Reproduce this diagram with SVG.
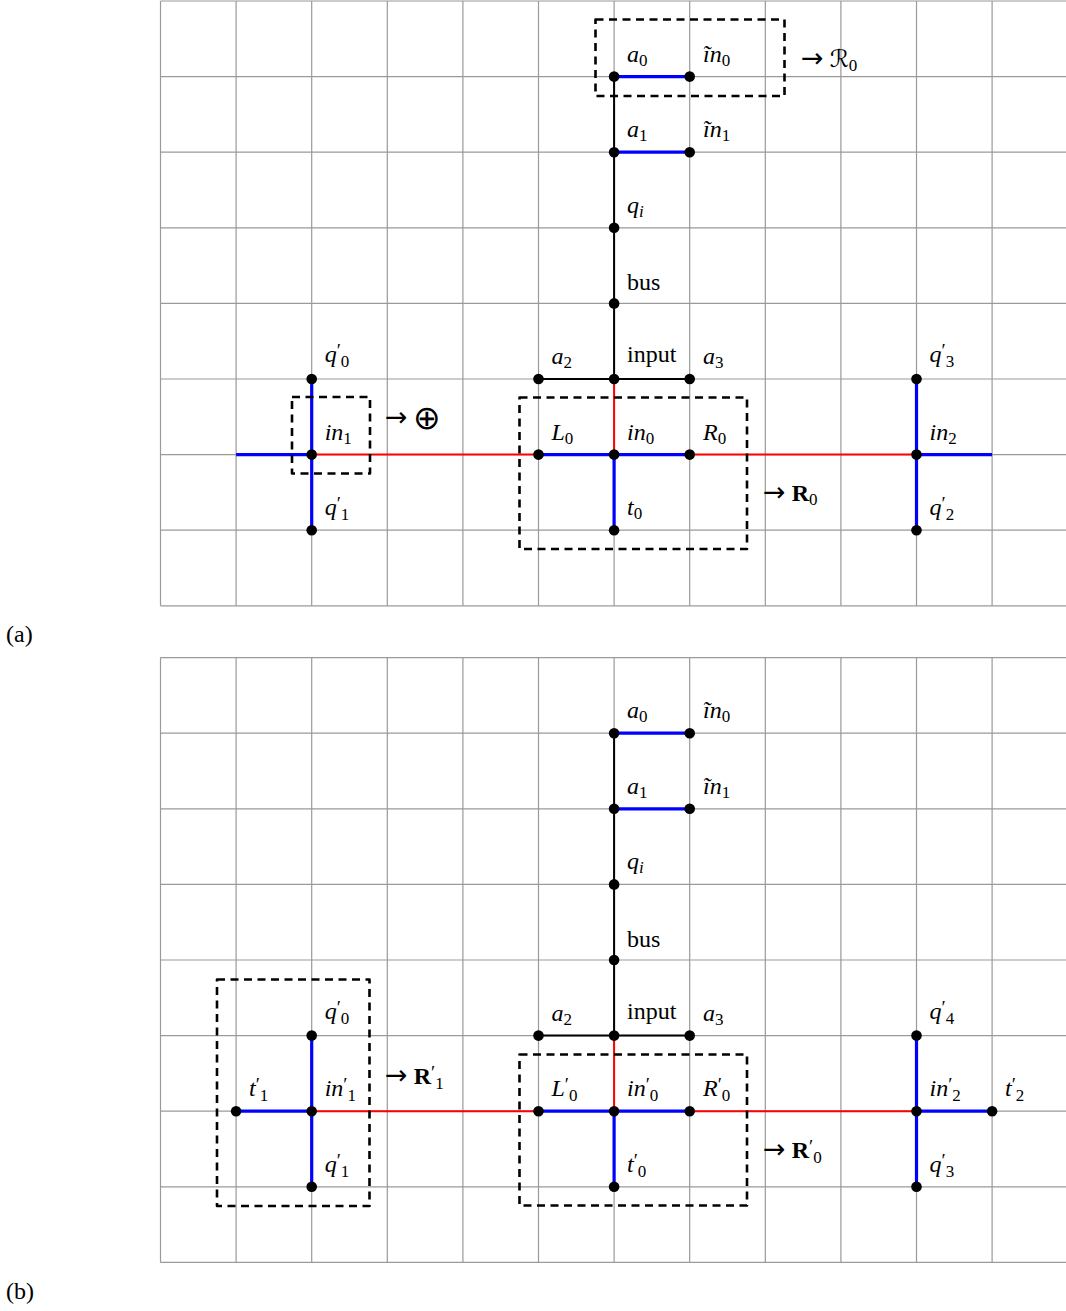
<svg xmlns="http://www.w3.org/2000/svg" width="1066" height="1311" viewBox="0 0 1066 1311">
<style>
.grid{stroke:#9a9a9a;stroke-width:1.2;fill:none}
.blk{stroke:#000;stroke-width:2;fill:none}
.blu{stroke:#0000ff;stroke-width:3.2;fill:none}
.red{stroke:#ff0000;stroke-width:2;fill:none}
.box{stroke:#000;stroke-width:2.6;fill:none;stroke-dasharray:8 5.5;stroke-linejoin:round}
.dot{fill:#000}
text{font-family:"Liberation Serif","DejaVu Serif",serif;font-size:24px;fill:#000}
.it{font-style:italic}
.s{font-size:17px;font-style:normal}
.si{font-size:17px;font-style:italic}
.p{font-size:19px;font-style:normal}
.bf{font-weight:bold;font-style:normal}
.ar{font-family:"DejaVu Sans",sans-serif;font-size:27px;font-style:normal}
</style>
<rect width="1066" height="1311" fill="#fff"/>
<g id="grid-a" class="grid">
<path d="M160.5 1H1066M160.5 76.6H1066M160.5 152.2H1066M160.5 227.8H1066M160.5 303.4H1066M160.5 379H1066M160.5 454.6H1066M160.5 530.2H1066M160.5 605.8H1066"/>
<path d="M160.5 1V605.8M236.1 1V605.8M311.7 1V605.8M387.3 1V605.8M462.9 1V605.8M538.5 1V605.8M614.1 1V605.8M689.7 1V605.8M765.3 1V605.8M840.9 1V605.8M916.5 1V605.8M992.1 1V605.8"/>
</g>
<g id="grid-b" class="grid">
<path d="M160.5 657.6H1066M160.5 733.2H1066M160.5 808.8H1066M160.5 884.4H1066M160.5 960H1066M160.5 1035.6H1066M160.5 1111.2H1066M160.5 1186.8H1066M160.5 1262.4H1066"/>
<path d="M160.5 657.6V1262.4M236.1 657.6V1262.4M311.7 657.6V1262.4M387.3 657.6V1262.4M462.9 657.6V1262.4M538.5 657.6V1262.4M614.1 657.6V1262.4M689.7 657.6V1262.4M765.3 657.6V1262.4M840.9 657.6V1262.4M916.5 657.6V1262.4M992.1 657.6V1262.4"/>
</g>
<g id="connectors">
<path class="blk" d="M614.1 76.6V379M538.5 379H689.7"/>
<path class="red" d="M614.1 379V454.6M311.7 454.6H538.5M689.7 454.6H916.5"/>
<path class="blu" d="M614.1 76.6H689.7M614.1 152.2H689.7M538.5 454.6H689.7M614.1 454.6V530.2M236.1 454.6H311.7M311.7 379V530.2M916.5 379V530.2M916.5 454.6H992.1"/>
<path class="blk" d="M614.1 733.2V1035.6M538.5 1035.6H689.7"/>
<path class="red" d="M614.1 1035.6V1111.2M311.7 1111.2H538.5M689.7 1111.2H916.5"/>
<path class="blu" d="M614.1 733.2H689.7M614.1 808.8H689.7M538.5 1111.2H689.7M614.1 1111.2V1186.8M236.1 1111.2H311.7M311.7 1035.6V1186.8M916.5 1035.6V1186.8M916.5 1111.2H992.1"/>
</g>
<g id="boxes">
<rect class="box" x="595.5" y="19.5" width="189" height="76.5"/>
<rect class="box" x="292" y="397" width="78" height="76.5"/>
<rect class="box" x="519.5" y="397.5" width="227.5" height="151.5"/>
<rect class="box" x="217" y="979.5" width="152.5" height="226.5"/>
<rect class="box" x="519.5" y="1054.5" width="227.5" height="151"/>
</g>
<g id="nodes-a">
<g id="a-a0"><circle class="dot" cx="614.1" cy="76.6" r="5.3"/><text class="it" x="627" y="61.6">a<tspan class="s" dy="4">0</tspan></text></g>
<g id="a-tin0"><circle class="dot" cx="689.7" cy="76.6" r="5.3"/><text class="it" x="703" y="61.6">ĩn<tspan class="s" dy="4">0</tspan></text></g>
<g id="a-a1"><circle class="dot" cx="614.1" cy="152.2" r="5.3"/><text class="it" x="627" y="137.2">a<tspan class="s" dy="4">1</tspan></text></g>
<g id="a-tin1"><circle class="dot" cx="689.7" cy="152.2" r="5.3"/><text class="it" x="703" y="137.2">ĩn<tspan class="s" dy="4">1</tspan></text></g>
<g id="a-qi"><circle class="dot" cx="614.1" cy="227.8" r="5.3"/><text class="it" x="627" y="212.8">q<tspan class="si" dy="4">i</tspan></text></g>
<g id="a-bus"><circle class="dot" cx="614.1" cy="303.4" r="5.3"/><text x="627" y="290">bus</text></g>
<g id="a-input"><circle class="dot" cx="614.1" cy="379" r="5.3"/><text x="627" y="362">input</text></g>
<g id="a-a2"><circle class="dot" cx="538.5" cy="379" r="5.3"/><text class="it" x="551.5" y="364">a<tspan class="s" dy="4">2</tspan></text></g>
<g id="a-a3"><circle class="dot" cx="689.7" cy="379" r="5.3"/><text class="it" x="703" y="364">a<tspan class="s" dy="4">3</tspan></text></g>
<g id="a-L0"><circle class="dot" cx="538.5" cy="454.6" r="5.3"/><text class="it" x="551.5" y="439.6">L<tspan class="s" dy="4">0</tspan></text></g>
<g id="a-in0"><circle class="dot" cx="614.1" cy="454.6" r="5.3"/><text class="it" x="627" y="439.6">in<tspan class="s" dy="4">0</tspan></text></g>
<g id="a-R0"><circle class="dot" cx="689.7" cy="454.6" r="5.3"/><text class="it" x="703" y="439.6">R<tspan class="s" dy="4">0</tspan></text></g>
<g id="a-t0"><circle class="dot" cx="614.1" cy="530.2" r="5.3"/><text class="it" x="627" y="515.2">t<tspan class="s" dy="4">0</tspan></text></g>
<g id="a-q0p"><circle class="dot" cx="311.7" cy="379" r="5.3"/><text class="it" x="324.7" y="362">q<tspan class="p" dy="-5">′</tspan><tspan class="s" dy="10">0</tspan></text></g>
<g id="a-in1"><circle class="dot" cx="311.7" cy="454.6" r="5.3"/><text class="it" x="324.7" y="439.6">in<tspan class="s" dy="4">1</tspan></text></g>
<g id="a-q1p"><circle class="dot" cx="311.7" cy="530.2" r="5.3"/><text class="it" x="324.7" y="515.2">q<tspan class="p" dy="-5">′</tspan><tspan class="s" dy="10">1</tspan></text></g>
<g id="a-q3p"><circle class="dot" cx="916.5" cy="379" r="5.3"/><text class="it" x="929.5" y="362">q<tspan class="p" dy="-5">′</tspan><tspan class="s" dy="10">3</tspan></text></g>
<g id="a-in2"><circle class="dot" cx="916.5" cy="454.6" r="5.3"/><text class="it" x="929.5" y="439.6">in<tspan class="s" dy="4">2</tspan></text></g>
<g id="a-q2p"><circle class="dot" cx="916.5" cy="530.2" r="5.3"/><text class="it" x="929.5" y="515.2">q<tspan class="p" dy="-5">′</tspan><tspan class="s" dy="10">2</tspan></text></g>
</g>
<g id="nodes-b">
<g id="b-a0"><circle class="dot" cx="614.1" cy="733.2" r="5.3"/><text class="it" x="627" y="718.2">a<tspan class="s" dy="4">0</tspan></text></g>
<g id="b-tin0"><circle class="dot" cx="689.7" cy="733.2" r="5.3"/><text class="it" x="703" y="718.2">ĩn<tspan class="s" dy="4">0</tspan></text></g>
<g id="b-a1"><circle class="dot" cx="614.1" cy="808.8" r="5.3"/><text class="it" x="627" y="793.8">a<tspan class="s" dy="4">1</tspan></text></g>
<g id="b-tin1"><circle class="dot" cx="689.7" cy="808.8" r="5.3"/><text class="it" x="703" y="793.8">ĩn<tspan class="s" dy="4">1</tspan></text></g>
<g id="b-qi"><circle class="dot" cx="614.1" cy="884.4" r="5.3"/><text class="it" x="627" y="869.4">q<tspan class="si" dy="4">i</tspan></text></g>
<g id="b-bus"><circle class="dot" cx="614.1" cy="960" r="5.3"/><text x="627" y="946.6">bus</text></g>
<g id="b-input"><circle class="dot" cx="614.1" cy="1035.6" r="5.3"/><text x="627" y="1018.6">input</text></g>
<g id="b-a2"><circle class="dot" cx="538.5" cy="1035.6" r="5.3"/><text class="it" x="551.5" y="1020.6">a<tspan class="s" dy="4">2</tspan></text></g>
<g id="b-a3"><circle class="dot" cx="689.7" cy="1035.6" r="5.3"/><text class="it" x="703" y="1020.6">a<tspan class="s" dy="4">3</tspan></text></g>
<g id="b-L0p"><circle class="dot" cx="538.5" cy="1111.2" r="5.3"/><text class="it" x="551.5" y="1096.2">L<tspan class="p" dy="-5">′</tspan><tspan class="s" dy="10">0</tspan></text></g>
<g id="b-in0p"><circle class="dot" cx="614.1" cy="1111.2" r="5.3"/><text class="it" x="627" y="1096.2">in<tspan class="p" dy="-5">′</tspan><tspan class="s" dy="10">0</tspan></text></g>
<g id="b-R0p"><circle class="dot" cx="689.7" cy="1111.2" r="5.3"/><text class="it" x="703" y="1096.2">R<tspan class="p" dy="-5">′</tspan><tspan class="s" dy="10">0</tspan></text></g>
<g id="b-t0p"><circle class="dot" cx="614.1" cy="1186.8" r="5.3"/><text class="it" x="627" y="1171.8">t<tspan class="p" dy="-5">′</tspan><tspan class="s" dy="10">0</tspan></text></g>
<g id="b-t1p"><circle class="dot" cx="236.1" cy="1111.2" r="5.3"/><text class="it" x="249" y="1096.2">t<tspan class="p" dy="-5">′</tspan><tspan class="s" dy="10">1</tspan></text></g>
<g id="b-q0p"><circle class="dot" cx="311.7" cy="1035.6" r="5.3"/><text class="it" x="324.7" y="1018.6">q<tspan class="p" dy="-5">′</tspan><tspan class="s" dy="10">0</tspan></text></g>
<g id="b-in1p"><circle class="dot" cx="311.7" cy="1111.2" r="5.3"/><text class="it" x="324.7" y="1096.2">in<tspan class="p" dy="-5">′</tspan><tspan class="s" dy="10">1</tspan></text></g>
<g id="b-q1p"><circle class="dot" cx="311.7" cy="1186.8" r="5.3"/><text class="it" x="324.7" y="1171.8">q<tspan class="p" dy="-5">′</tspan><tspan class="s" dy="10">1</tspan></text></g>
<g id="b-q4p"><circle class="dot" cx="916.5" cy="1035.6" r="5.3"/><text class="it" x="929.5" y="1018.6">q<tspan class="p" dy="-5">′</tspan><tspan class="s" dy="10">4</tspan></text></g>
<g id="b-in2p"><circle class="dot" cx="916.5" cy="1111.2" r="5.3"/><text class="it" x="929.5" y="1096.2">in<tspan class="p" dy="-5">′</tspan><tspan class="s" dy="10">2</tspan></text></g>
<g id="b-t2p"><circle class="dot" cx="992.1" cy="1111.2" r="5.3"/><text class="it" x="1005" y="1096.2">t<tspan class="p" dy="-5">′</tspan><tspan class="s" dy="10">2</tspan></text></g>
<g id="b-q3p"><circle class="dot" cx="916.5" cy="1186.8" r="5.3"/><text class="it" x="929.5" y="1171.8">q<tspan class="p" dy="-5">′</tspan><tspan class="s" dy="10">3</tspan></text></g>
</g>
<g id="annotations">
<text x="801" y="67"><tspan class="ar">→</tspan> <tspan style="font-family:'DejaVu Serif','DejaVu Sans',serif;font-style:italic">ℛ</tspan><tspan class="s" dy="4">0</tspan></text>
<text x="385" y="426" class="ar">→</text>
<text x="413" y="429" style="font-family:'DejaVu Sans',sans-serif;font-size:33px">⊕</text>
<text x="763" y="501"><tspan class="ar">→</tspan> <tspan class="bf">R</tspan><tspan class="s" dy="4">0</tspan></text>
<text x="385" y="1084"><tspan class="ar">→</tspan> <tspan class="bf">R</tspan><tspan class="p" dy="-5">′</tspan><tspan class="s" dy="10">1</tspan></text>
<text x="763" y="1158"><tspan class="ar">→</tspan> <tspan class="bf">R</tspan><tspan class="p" dy="-5">′</tspan><tspan class="s" dy="10">0</tspan></text>
<text x="6" y="642">(a)</text>
<text x="6" y="1299">(b)</text>
</g>
</svg>
